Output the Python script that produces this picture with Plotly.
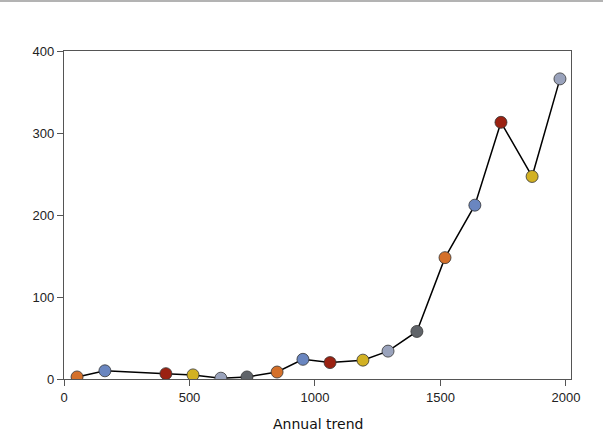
import plotly.graph_objects as go

x_vals = [52, 163, 406, 514, 625, 729, 849, 952, 1060, 1191, 1291, 1406, 1518, 1637, 1741, 1865, 1976]
y_vals = [2.5, 10, 6.5, 5, 1, 2.5, 8.5, 24, 20, 23, 34, 58, 148, 212, 313, 247, 366]
palette = ["#d4702a", "#6a86c0", "#9b2212", "#d2b123", "#9aa3bc", "#606469"]
colors = [palette[i % len(palette)] for i in range(len(x_vals))]
x_title = "Annual trend"

fig = go.Figure()
fig.add_trace(go.Scatter(
    x=x_vals, y=y_vals, mode="lines+markers",
    line=dict(color="black", width=1.5),
    marker=dict(size=12, color=colors, line=dict(color="#333333", width=0.8)),
    showlegend=False,
))

axis_font = dict(family="Liberation Sans, Arial, sans-serif", size=13, color="#222222")
fig.update_xaxes(
    range=[0, 2020], tickvals=[0, 500, 1000, 1500, 2000],
    showline=True, linecolor="#555555", linewidth=1.2, mirror=True,
    ticks="outside", ticklen=6, tickcolor="#555555",
    showgrid=False, zeroline=False, tickfont=axis_font, automargin=False,
)
fig.update_yaxes(
    range=[0, 400], tickvals=[0, 100, 200, 300, 400],
    showline=True, linecolor="#555555", linewidth=1.2, mirror=True,
    ticks="outside", ticklen=6, tickcolor="#555555",
    showgrid=False, zeroline=False, tickfont=axis_font, automargin=False,
)
fig.add_annotation(text=x_title, xref="paper", yref="paper", x=0.5, y=(379-424)/328,
                   xanchor="center", yanchor="middle", showarrow=False,
                   font=dict(family="DejaVu Sans, sans-serif", size=14, color="#111111"))
fig.add_shape(type="line", xref="paper", yref="paper",
              x0=-64/507, x1=(603-64)/507, y0=(379-1)/328, y1=(379-1)/328,
              line=dict(color="#b3b3b3", width=2))
fig.update_layout(
    width=603, height=434,
    margin=dict(l=64, r=32, t=51, b=55),
    plot_bgcolor="white", paper_bgcolor="white",
)
fig.write_html("out.html", config={"displayModeBar": False},
               post_script="document.body.style.margin='0';")
